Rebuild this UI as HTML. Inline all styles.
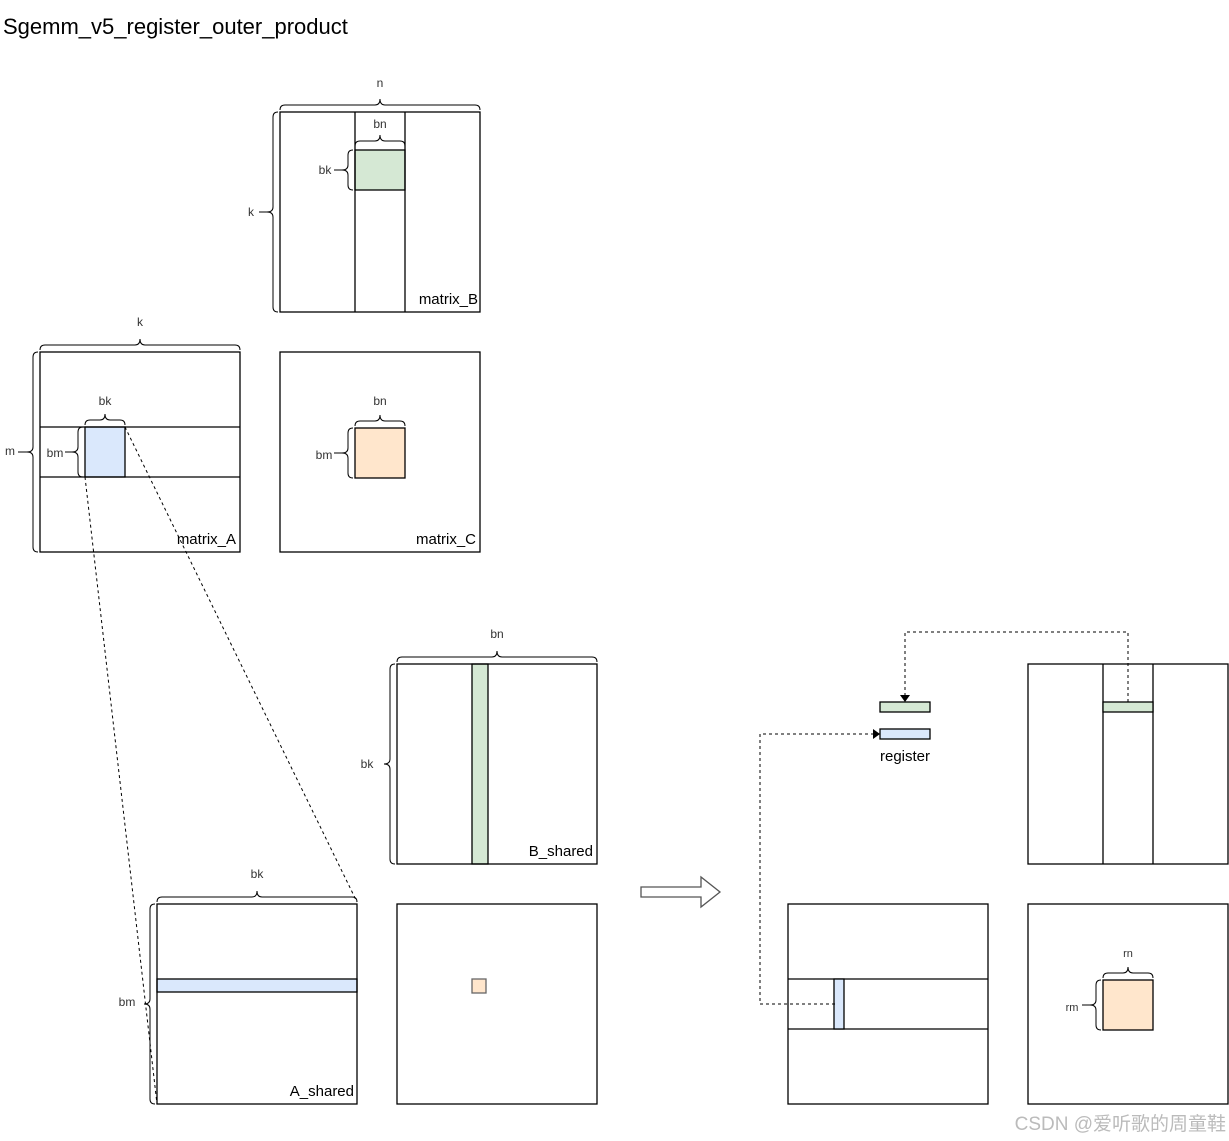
<!DOCTYPE html>
<html><head><meta charset="utf-8"><style>
html,body{margin:0;padding:0;background:#fff;}
svg{display:block;}
text{font-family:"Liberation Sans",sans-serif;}
</style></head><body>
<svg width="1229" height="1141" viewBox="0 0 1229 1141" xmlns="http://www.w3.org/2000/svg">
<text x="3" y="34" font-size="22" fill="#000">Sgemm_v5_register_outer_product</text>

<g fill="none" stroke="#000" stroke-width="1.3">
<!-- matrix_B -->
<rect x="355" y="150" width="50" height="40" fill="#d5e8d4"/>
<rect x="280" y="112" width="200" height="200"/>
<line x1="355" y1="112" x2="355" y2="312"/><line x1="405" y1="112" x2="405" y2="312"/>
<!-- matrix_A -->
<rect x="85" y="427" width="40" height="50" fill="#dae8fc"/>
<rect x="40" y="352" width="200" height="200"/>
<line x1="40" y1="427" x2="240" y2="427"/><line x1="40" y1="477" x2="240" y2="477"/>
<!-- matrix_C -->
<rect x="280" y="352" width="200" height="200"/>
<rect x="355" y="428" width="50" height="50" fill="#ffe6cc"/>
<!-- B_shared -->
<rect x="472" y="664" width="16" height="200" fill="#d5e8d4"/>
<rect x="397" y="664" width="200" height="200"/>
<!-- A_shared -->
<rect x="157" y="979" width="200" height="13" fill="#dae8fc"/>
<rect x="157" y="904" width="200" height="200"/>
<!-- C small -->
<rect x="397" y="904" width="200" height="200"/>
<rect x="472" y="979" width="14" height="14" fill="#ffe6cc" stroke="#666"/>
<!-- arrow -->
<path d="M641 887 L701 887 L701 877 L720 892 L701 907 L701 897 L641 897 Z" stroke="#555"/>
<!-- right top -->
<rect x="1028" y="664" width="200" height="200"/>
<line x1="1103" y1="664" x2="1103" y2="864"/><line x1="1153" y1="664" x2="1153" y2="864"/>
<rect x="1103" y="702" width="50" height="10" fill="#d5e8d4"/>
<rect x="880" y="702" width="50" height="10" fill="#d5e8d4"/>
<rect x="880" y="729" width="50" height="10" fill="#dae8fc"/>
<!-- right bottom left -->
<rect x="788" y="904" width="200" height="200"/>
<line x1="788" y1="979" x2="988" y2="979"/><line x1="788" y1="1029" x2="988" y2="1029"/>
<rect x="834" y="979" width="10" height="50" fill="#dae8fc"/>
<!-- right bottom right -->
<rect x="1028" y="904" width="200" height="200"/>
<rect x="1103" y="980" width="50" height="50" fill="#ffe6cc"/>
</g>

<!-- braces -->
<g fill="none" stroke="#000" stroke-width="1">
<path d="M280 110 Q280 105 285 105 L375 105 Q380 105 380 99 Q380 105 385 105 L475 105 Q480 105 480 110"/>
<path d="M355 146 Q355 141 360 141 L375 141 Q380 141 380 135 Q380 141 385 141 L400 141 Q405 141 405 146"/>
<path d="M40 350 Q40 345 45 345 L135 345 Q140 345 140 339 Q140 345 145 345 L235 345 Q240 345 240 350"/>
<path d="M85 425 Q85 420 90 420 L100 420 Q105 420 105 414 Q105 420 110 420 L120 420 Q125 420 125 425"/>
<path d="M355 426 Q355 421 360 421 L375 421 Q380 421 380 415 Q380 421 385 421 L400 421 Q405 421 405 426"/>
<path d="M397 662 Q397 657 402 657 L492 657 Q497 657 497 651 Q497 657 502 657 L592 657 Q597 657 597 662"/>
<path d="M157 902 Q157 897 162 897 L252 897 Q257 897 257 891 Q257 897 262 897 L352 897 Q357 897 357 902"/>
<path d="M1103 978 Q1103 973 1108 973 L1123 973 Q1128 973 1128 967 Q1128 973 1133 973 L1148 973 Q1153 973 1153 978"/>

<path d="M278 112 Q273 112 273 117 L273 207 Q273 212 267 212 Q273 212 273 217 L273 307 Q273 312 278 312"/>
<path d="M353 150 Q348 150 348 155 L348 165 Q348 170 342 170 Q348 170 348 175 L348 185 Q348 190 353 190"/>
<path d="M38 352 Q33 352 33 357 L33 447 Q33 452 27 452 Q33 452 33 457 L33 547 Q33 552 38 552"/>
<path d="M83 427 Q78 427 78 432 L78 447 Q78 452 72 452 Q78 452 78 457 L78 472 Q78 477 83 477"/>
<path d="M353 428 Q348 428 348 433 L348 448 Q348 453 342 453 Q348 453 348 458 L348 473 Q348 478 353 478"/>
<path d="M395 664 Q390 664 390 669 L390 759 Q390 764 384 764 Q390 764 390 769 L390 859 Q390 864 395 864"/>
<path d="M155 904 Q150 904 150 909 L150 999 Q150 1004 144 1004 Q150 1004 150 1009 L150 1099 Q150 1104 155 1104"/>
<path d="M1101 980 Q1096 980 1096 985 L1096 1000 Q1096 1005 1090 1005 Q1096 1005 1096 1010 L1096 1025 Q1096 1030 1101 1030"/>
<!-- small ticks to labels -->
<line x1="259" y1="212" x2="267" y2="212"/><line x1="334" y1="170" x2="342" y2="170"/>
<line x1="18" y1="452" x2="27" y2="452"/><line x1="65" y1="452" x2="72" y2="452"/>
<line x1="334" y1="453" x2="342" y2="453"/><line x1="1082" y1="1005" x2="1090" y2="1005"/>
</g>

<!-- dashed lines -->
<g fill="none" stroke="#000" stroke-width="1" stroke-dasharray="3,3">
<line x1="85" y1="477" x2="157" y2="1104"/>
<line x1="125" y1="427" x2="357" y2="902"/>
<path d="M1128 702 L1128 632 L905 632 L905 696"/>
<path d="M835 1004 L760 1004 L760 734 L874 734"/>
</g>
<path d="M900 695 L910 695 L905 702 Z" fill="#000"/>
<path d="M873 729 L880 734 L873 739 Z" fill="#000"/>

<!-- labels -->
<g font-size="12" fill="#333" text-anchor="middle">
<text x="380" y="87">n</text>
<text x="380" y="128">bn</text>
<text x="325" y="174">bk</text>
<text x="251" y="216">k</text>
<text x="140" y="326">k</text>
<text x="105" y="405">bk</text>
<text x="55" y="457">bm</text>
<text x="10" y="455">m</text>
<text x="380" y="405">bn</text>
<text x="324" y="459">bm</text>
<text x="497" y="638">bn</text>
<text x="367" y="768">bk</text>
<text x="257" y="878">bk</text>
<text x="127" y="1006">bm</text>
<text x="1128" y="957" font-size="11">rn</text>
<text x="1072" y="1011" font-size="11">rm</text>
</g>
<g font-size="15" fill="#000" text-anchor="end">
<text x="478" y="304">matrix_B</text>
<text x="236" y="544">matrix_A</text>
<text x="476" y="544">matrix_C</text>
<text x="593" y="856">B_shared</text>
<text x="354" y="1096">A_shared</text>
</g>
<text x="905" y="761" font-size="15" text-anchor="middle">register</text>
<text x="1226" y="1130" font-size="19" fill="#bbb" text-anchor="end" style="font-family:'Liberation Sans','Noto Sans CJK SC',sans-serif">CSDN @爱听歌的周童鞋</text>
</svg>
</body></html>
